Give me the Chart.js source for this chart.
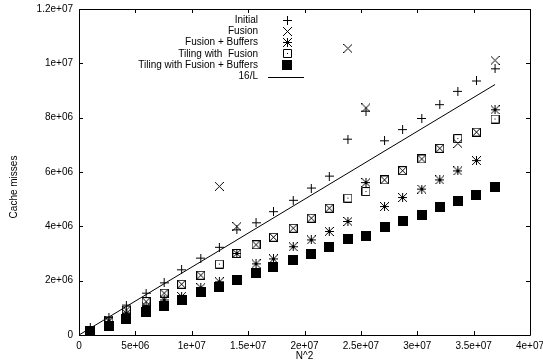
<!DOCTYPE html>
<html>
<head>
<meta charset="utf-8">
<script src="https://cdn.jsdelivr.net/npm/chart.js@4.4.1/dist/chart.umd.min.js"></script>
<style>
    body { margin: 0; background: #fff; }
</style>
</head>
<body>
<canvas id="myChart" width="543" height="363"></canvas>
<script>
Chart.defaults.font.family = '"Liberation Sans", Arial, sans-serif';
Chart.defaults.font.size = 10;
Chart.defaults.color = '#000';

// x values (N^2)
const nSquared = [1.0e6, 2.65e6, 4.2e6, 5.95e6, 7.55e6, 9.1e6, 10.8e6, 12.45e6, 14.0e6, 15.7e6, 17.25e6, 19.0e6,
    20.6e6, 22.2e6, 23.85e6, 25.45e6, 27.1e6, 28.7e6, 30.4e6, 32.0e6, 33.6e6, 35.25e6, 36.9e6];

// cache misses per variant
const initial = [0.28e6, 0.65e6, 1.10e6, 1.54e6, 1.92e6, 2.40e6, 2.83e6, 3.23e6, 3.87e6, 4.13e6, 4.54e6, 4.96e6,
    5.41e6, 5.85e6, 7.21e6, 8.24e6, 7.15e6, 7.56e6, 7.97e6, 8.48e6, 8.97e6, 9.35e6, 9.80e6];
const fusion = [0.15e6, 0.55e6, 0.92e6, 1.23e6, 1.54e6, 1.87e6, 2.20e6, 5.47e6, 3.99e6, 3.32e6, 3.60e6, 3.93e6,
    4.30e6, 4.67e6, 10.55e6, 8.36e6, 5.71e6, 6.05e6, 6.48e6, 6.87e6, 7.05e6, 7.47e6, 10.11e6];
const fusionBuffers = [0.15e6, 0.50e6, 0.80e6, 1.05e6, 1.29e6, 1.42e6, 1.74e6, 1.96e6, 3.00e6, 2.62e6, 2.80e6, 3.25e6,
    3.50e6, 3.81e6, 4.18e6, 5.61e6, 4.73e6, 5.06e6, 5.37e6, 5.71e6, 6.04e6, 6.42e6, 8.29e6];
const tilingFusion = [0.15e6, 0.55e6, 0.92e6, 1.23e6, 1.54e6, 1.87e6, 2.20e6, 2.61e6, 3.00e6, 3.32e6, 3.60e6, 3.93e6,
    4.30e6, 4.67e6, 5.04e6, 5.28e6, 5.71e6, 6.05e6, 6.48e6, 6.87e6, 7.23e6, 7.47e6, 7.95e6];
const tilingFusionBuffers = [0.13e6, 0.34e6, 0.60e6, 0.84e6, 1.07e6, 1.30e6, 1.58e6, 1.78e6, 2.03e6, 2.30e6, 2.50e6, 2.75e6,
    2.99e6, 3.23e6, 3.53e6, 3.66e6, 3.96e6, 4.18e6, 4.42e6, 4.73e6, 4.95e6, 5.16e6, 5.43e6];

// 16/L reference line (end points)
const boundX = [0, 36.9e6];
const boundY = [0, 9.22e6];

const seriesLabels = ['Initial', 'Fusion', 'Fusion + Buffers', 'Tiling with  Fusion', 'Tiling with Fusion + Buffers', '16/L'];

const xTickLabels = ['0', '5e+06', '1e+07', '1.5e+07', '2e+07', '2.5e+07', '3e+07', '3.5e+07', '4e+07'];
const yTickLabels = ['0', '2e+06', '4e+06', '6e+06', '8e+06', '1e+07', '1.2e+07'];

// gnuplot style point markers
function makeMarker(kind) {
    const size = kind === 'filled' ? 10 : 9;
    const c = document.createElement('canvas');
    c.width = size;
    c.height = size;
    const g = c.getContext('2d');
    g.strokeStyle = '#000';
    g.fillStyle = '#000';
    g.lineWidth = 1;
    const m = size / 2;
    g.beginPath();
    if (kind === 'plus' || kind === 'star') {
        g.moveTo(0, m); g.lineTo(size, m);
        g.moveTo(m, 0); g.lineTo(m, size);
    }
    if (kind === 'cross' || kind === 'star') {
        g.moveTo(0, 0); g.lineTo(size, size);
        g.moveTo(size, 0); g.lineTo(0, size);
    }
    if (kind === 'box') {
        g.rect(0.5, 0.5, size - 1, size - 1);
        g.fillRect(4, 4, 1, 1);
    }
    g.stroke();
    if (kind === 'filled') g.fillRect(0, 0, size, size);
    return c;
}

function toPoints(xs, ys) {
    return xs.map((x, i) => ({ x: x, y: ys[i] }));
}

function pointSet(label, ys, marker, order) {
    return {
        label: label,
        data: toPoints(nSquared, ys),
        pointStyle: makeMarker(marker),
        showLine: false,
        order: order
    };
}

// frame, inward ticks, axis titles and the legend
const gnuplotLook = {
    id: 'gnuplotLook',
    afterDraw(chart) {
        const ctx = chart.ctx;
        const a = chart.chartArea;
        const xs = chart.scales.x;
        const ys = chart.scales.y;
        ctx.save();
        ctx.strokeStyle = '#000';
        ctx.lineWidth = 1;
        ctx.beginPath();
        ctx.rect(Math.round(a.left) + 0.5, Math.round(a.top) + 0.5,
            Math.round(a.right - a.left), Math.round(a.bottom - a.top));
        xs.ticks.forEach(t => {
            const px = Math.round(xs.getPixelForValue(t.value)) + 0.5;
            ctx.moveTo(px, a.bottom); ctx.lineTo(px, a.bottom - 4);
            ctx.moveTo(px, a.top); ctx.lineTo(px, a.top + 4);
        });
        ys.ticks.forEach(t => {
            const py = Math.round(ys.getPixelForValue(t.value)) + 0.5;
            ctx.moveTo(a.left, py); ctx.lineTo(a.left + 4, py);
            ctx.moveTo(a.right, py); ctx.lineTo(a.right - 4, py);
        });
        ctx.stroke();

        ctx.fillStyle = '#000';
        ctx.font = '10px "Liberation Sans", Arial, sans-serif';
        ctx.textAlign = 'center';
        ctx.textBaseline = 'middle';
        ctx.fillText('N^2', (a.left + a.right) / 2, 356);
        ctx.save();
        ctx.translate(14, 187);
        ctx.rotate(-Math.PI / 2);
        ctx.fillText('Cache misses', 0, 0);
        ctx.restore();

        // legend: label right aligned, then symbol
        ctx.textAlign = 'right';
        chart.data.datasets.forEach((ds, i) => {
            const y = 20 + i * 11.3;
            ctx.fillText(ds.label, 258, y);
            if (ds.showLine) {
                ctx.beginPath();
                ctx.moveTo(268, Math.round(y) + 0.5);
                ctx.lineTo(304, Math.round(y) + 0.5);
                ctx.stroke();
            } else {
                const img = ds.pointStyle;
                ctx.drawImage(img, Math.round(287 - img.width / 2), Math.round(y - img.height / 2));
            }
        });
        ctx.restore();
    }
};

const ctx = document.getElementById('myChart');

new Chart(ctx, {
    type: 'scatter',
    data: {
        datasets: [
            pointSet(seriesLabels[0], initial, 'plus', 6),
            pointSet(seriesLabels[1], fusion, 'cross', 5),
            pointSet(seriesLabels[2], fusionBuffers, 'star', 4),
            pointSet(seriesLabels[3], tilingFusion, 'box', 3),
            pointSet(seriesLabels[4], tilingFusionBuffers, 'filled', 2),
            {
                label: seriesLabels[5],
                data: toPoints(boundX, boundY),
                showLine: true,
                borderColor: '#000',
                borderWidth: 1,
                pointRadius: 0,
                order: 1
            }
        ]
    },
    options: {
        responsive: false,
        animation: false,
        layout: {
            padding: { top: 9, right: 13, left: 0, bottom: 0 }
        },
        scales: {
            x: {
                type: 'linear',
                min: 0,
                max: 4e7,
                grid: { display: false, drawTicks: false },
                border: { display: false },
                ticks: {
                    stepSize: 5e6,
                    maxRotation: 0,
                    autoSkip: false,
                    padding: 5,
                    callback: (value, index) => xTickLabels[index]
                },
                afterFit: scale => {
                    scale.height = 28;
                    scale.paddingLeft = 0;
                    scale.paddingRight = 0;
                }
            },
            y: {
                type: 'linear',
                min: 0,
                max: 1.2e7,
                grid: { display: false, drawTicks: false },
                border: { display: false },
                ticks: {
                    stepSize: 2e6,
                    autoSkip: false,
                    padding: 6,
                    callback: (value, index) => yTickLabels[index]
                },
                afterFit: scale => {
                    scale.width = 79;
                    scale.paddingTop = 0;
                    scale.paddingBottom = 0;
                }
            }
        },
        plugins: {
            legend: { display: false },
            tooltip: { enabled: false }
        }
    },
    plugins: [gnuplotLook]
});
</script>
</body>
</html>
